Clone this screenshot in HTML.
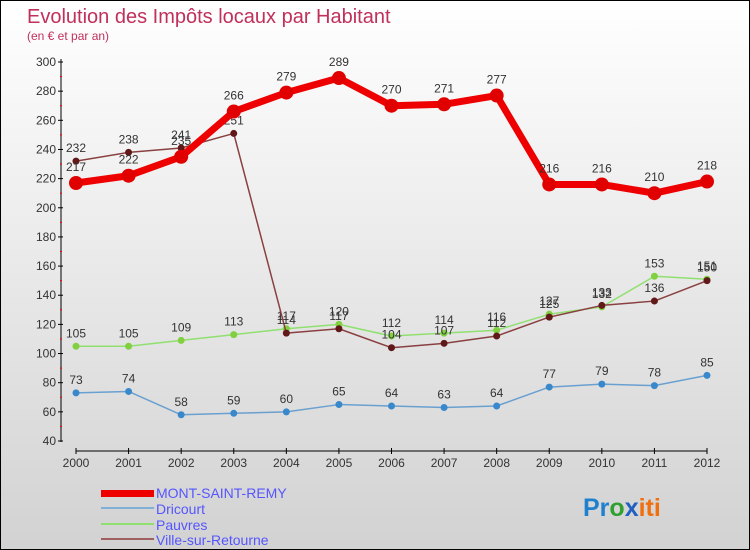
<!DOCTYPE html>
<html><head><meta charset="utf-8"><style>
body{margin:0;}
#wrap{width:748px;height:548px;border:1px solid #000;background:linear-gradient(#ffffff,#d2d2d2);position:relative;overflow:hidden;font-family:"Liberation Sans",sans-serif;}
svg text{font-family:"Liberation Sans",sans-serif;}
</style></head><body>
<div id="wrap">
<svg id="svg" width="748" height="548">
<text x="26" y="22" font-size="20" fill="#c0305a">Evolution des Impôts locaux par Habitant</text>
<text x="26" y="39" font-size="12" fill="#c0305a">(en € et par an)</text>
<g id="axes"></g><g id="series"></g>
<g>
<rect x="100" y="489" width="53" height="7" fill="#e00"/>
<text x="155" y="497" font-size="14" fill="#5555ff">MONT-SAINT-REMY</text>
<line x1="100" y1="507" x2="153" y2="507" stroke="#80b0d8" stroke-width="2"/>
<text x="155" y="513" font-size="14" fill="#5555ff">Dricourt</text>
<line x1="100" y1="523" x2="153" y2="523" stroke="#90e070" stroke-width="2"/>
<text x="155" y="529" font-size="14" fill="#5555ff">Pauvres</text>
<line x1="100" y1="538" x2="153" y2="538" stroke="#a06060" stroke-width="2"/>
<text x="155" y="544" font-size="14" fill="#5555ff">Ville-sur-Retourne</text>
</g>
<text x="582" y="515" font-size="25" font-weight="bold"><tspan fill="#2080d0">Pr</tspan><tspan fill="#30a030">o</tspan><tspan fill="#2060c0">x</tspan><tspan fill="#f07010">iti</tspan></text>
</svg></div>
<script>
const years=[2000,2001,2002,2003,2004,2005,2006,2007,2008,2009,2010,2011,2012];
const yTicks=[40,60,80,100,120,140,160,180,200,220,240,260,280,300];
const msr=[217,222,235,266,279,289,270,271,277,216,216,210,218];
const dricourt=[73,74,58,59,60,65,64,63,64,77,79,78,85];
const pauvres=[105,105,109,113,117,120,112,114,116,127,132,153,151];
const ville=[232,238,241,251,114,117,104,107,112,125,133,136,150];
const NS="http://www.w3.org/2000/svg";
const X=i=>75+i*(706-75)/(years.length-1);
const Y=v=>440-(v-40)*(440-61)/260;
function mk(t,a,p){const e=document.createElementNS(NS,t);for(const k in a)e.setAttribute(k,a[k]);p.appendChild(e);return e;}
const ax=document.getElementById('axes');
let e=mk('line',{x1:60,y1:58,x2:60,y2:441,stroke:'#000'},ax);


e=mk('line',{x1:75,y1:450,x2:706,y2:450,stroke:'#000'},ax);


yTicks.forEach((v,i)=>{
 mk('line',{x1:57,y1:Y(v),x2:62,y2:Y(v),stroke:'#000'},ax);
 if(i<yTicks.length-1)mk('line',{x1:59,y1:Y(v+10),x2:61,y2:Y(v+10),stroke:'#e00'},ax);
 const t=mk('text',{x:55,y:Y(v)+4,'font-size':12,fill:'#333','text-anchor':'end'},ax);t.textContent=v;
 
 
});
years.forEach((y,i)=>{
 mk('line',{x1:X(i),y1:447,x2:X(i),y2:453,stroke:'#000'},ax);
 const t=mk('text',{x:X(i),y:466,'font-size':12,fill:'#333','text-anchor':'middle'},ax);t.textContent=y;
 
 
});
const sg=document.getElementById('series');
function series(vals,name,color,w,r,dot){
 const g=mk('g',{},sg);
 
 
 mk('polyline',{points:vals.map((v,i)=>X(i)+','+Y(v)).join(' '),fill:'none',stroke:color,'stroke-width':w,'stroke-linejoin':'round'},g);
 vals.forEach((v,i)=>{
  const c=mk('circle',{cx:X(i),cy:Y(v),r:r,fill:dot},g);
  
  
  const t=mk('text',{x:X(i),y:Y(v)-9-(r>5?3:0),'font-size':12,fill:'#333','text-anchor':'middle'},g);t.textContent=v;
  
  
 });
}
series(dricourt,'dricourt','#6aa0d0',1.5,3.5,'#3a88cc');
series(pauvres,'pauvres','#90e070',1.5,3.5,'#80d040');
series(ville,'ville-sur-retourne','#8a4040',1.5,3.5,'#601818');
series(msr,'mont-saint-remy','#ee0000',7,7,'#e00000');
</script>
</body></html>
